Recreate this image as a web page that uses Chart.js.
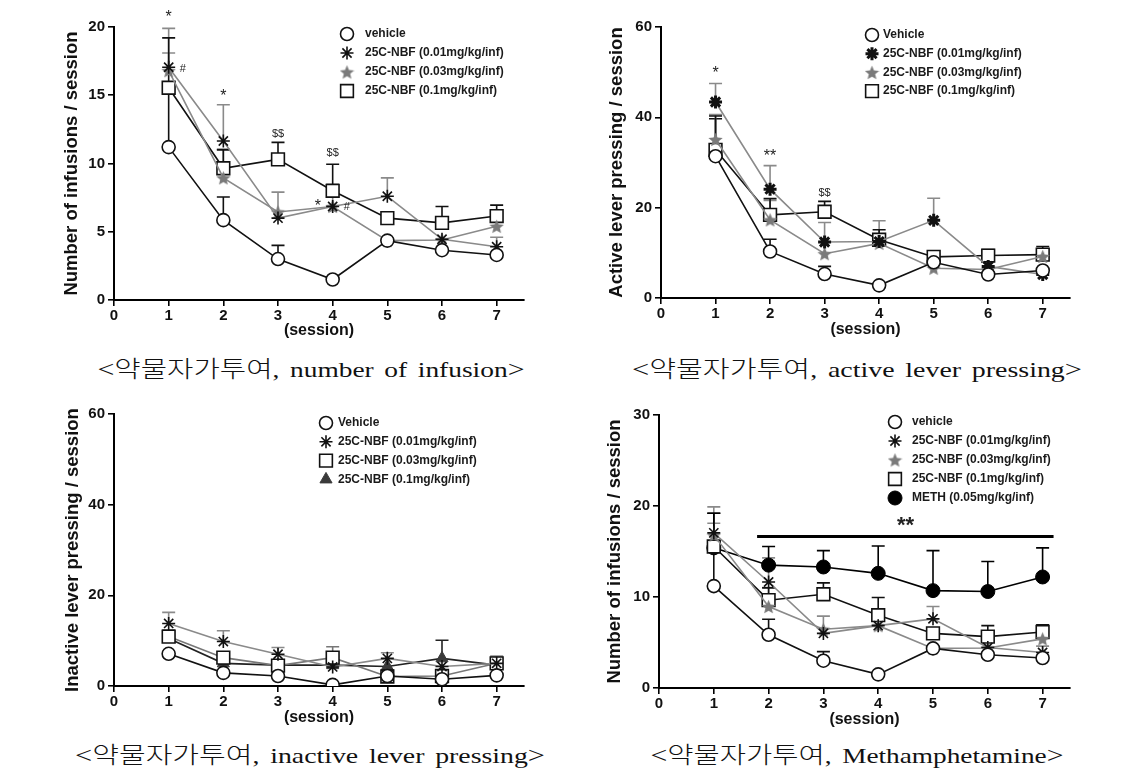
<!DOCTYPE html>
<html><head><meta charset="utf-8">
<script src="https://cdn.jsdelivr.net/npm/chart.js@4/dist/chart.umd.min.js"></script>
<style>
body{margin:0;background:#fff;width:1130px;height:775px;position:relative;overflow:hidden}
canvas{position:absolute}
.cap{position:absolute;font-family:"Liberation Serif","Noto Sans CJK KR",serif;font-size:24px;line-height:30px;color:#111;white-space:nowrap;transform-origin:50% 50%}
.cap .ko{font-family:"Noto Sans CJK KR",sans-serif;font-weight:300;font-size:23px}
.cap .la{font-size:22px;word-spacing:3px}
</style></head><body>
<canvas id="c1" width="565" height="345" style="left:0;top:0"></canvas>
<canvas id="c2" width="565" height="345" style="left:565px;top:0"></canvas>
<canvas id="c3" width="565" height="345" style="left:0;top:388px"></canvas>
<canvas id="c4" width="565" height="345" style="left:565px;top:388px"></canvas>
<div class="cap" data-w="427" style="left:311px;top:352px">&lt;<span class="ko">약물자가투여</span><span class="la">, number of infusion</span>&gt;</div>
<div class="cap" data-w="450" style="left:857px;top:352px">&lt;<span class="ko">약물자가투여</span><span class="la">, active lever pressing</span>&gt;</div>
<div class="cap" data-w="470" style="left:310px;top:738px">&lt;<span class="ko">약물자가투여</span><span class="la">, inactive lever pressing</span>&gt;</div>
<div class="cap" data-w="413" style="left:857px;top:738px">&lt;<span class="ko">약물자가투여</span><span class="la">, Methamphetamine</span>&gt;</div>
<script>
// ---------- DATA ----------
const sessions = [1, 2, 3, 4, 5, 6, 7];
const xTickVals = [0, 1, 2, 3, 4, 5, 6, 7];

// Panel 1 / 4 : number of infusions
const infVehicle    = [11.2, 5.85, 3.0, 1.5, 4.35, 3.65, 3.3];
const infVehicleErr = [4.2, 1.7, 1.0, 0, 0, 0, 0];
const inf001        = [17.05, 11.65, 6.0, 6.85, 7.6, 4.45, 3.9];
const inf001Err     = [2.85, 2.65, 0, 0, 1.35, 0, 0.7];
const inf003        = [16.8, 8.95, 6.45, 6.85, 4.35, 4.4, 5.4];
const inf003Err     = [1.3, 2.1, 1.45, 1.65, 0, 0, 0];
const inf01         = [15.55, 9.65, 10.3, 8.0, 6.0, 5.65, 6.15];
const inf01Err      = [3.65, 1.35, 1.25, 1.95, 0, 1.2, 0.8];
const infMeth       = [15.4, 13.5, 13.3, 12.6, 10.7, 10.6, 12.2];
const infMethErr    = [3.8, 2.05, 1.8, 3.0, 4.4, 3.3, 3.2];
const infTicks  = [0, 5, 10, 15, 20];
const methTicks = [0, 10, 20, 30];

// Panel 2 : active lever pressing
const actVehicle    = [31.4, 10.3, 5.3, 2.8, 7.9, 5.2, 6.1];
const actVehicleErr = [8.3, 2.7, 1.7, 0, 0, 0, 0];
const act001        = [43.4, 24.1, 12.4, 12.5, 17.2, 7.0, 5.2];
const act001Err     = [4.1, 5.2, 4.3, 4.6, 4.9, 0, 0];
const act003        = [35.1, 17.3, 9.8, 12.1, 6.6, 6.3, 9.2];
const act003Err     = [5.5, 4.3, 0, 0, 0, 0, 1.5];
const act01         = [32.8, 18.4, 19.1, 12.9, 9.1, 9.4, 9.6];
const act01Err      = [7.5, 3.6, 2.3, 2.2, 0.6, 1.3, 1.8];
const leverTicks = [0, 20, 40, 60];

// Panel 3 : inactive lever pressing
const inaVehicle    = [7.1, 2.9, 2.2, 0.25, 2.2, 1.5, 2.35];
const inaVehicleErr = [0, 0, 0, 0, 0, 0, 0];
const ina001        = [13.8, 9.8, 7.0, 4.2, 6.1, 4.3, 5.0];
const ina001Err     = [2.45, 2.4, 1.5, 0, 1.25, 0, 1.6];
const ina003        = [10.9, 6.25, 4.5, 6.25, 2.1, 2.2, 5.0];
const ina003Err     = [1.5, 1.2, 0.8, 2.4, 0, 0, 1.0];
const ina01         = [10.5, 5.0, 4.6, 4.6, 4.3, 6.1, 4.6];
const ina01Err      = [0, 0, 0, 0, 0, 4.0, 0];

// significance marks: [x, y, text]
const marks1 = [[1, 20.7, '*'], [1.26, 16.9, '#'], [2, 14.9, '*'], [3, 12.2, '$$'], [4, 10.8, '$$'], [3.73, 6.85, '*'], [4.26, 6.85, '#']];
const marks2 = [[1, 49.6, '*'], [2, 31.2, '**'], [3, 23.2, '$$']];
const marks4 = [[4.5, 17.8, '**']];
const sigLine4 = [1.79, 7.2, 16.65];

// ---------- caption fitting (stretch to the reference width) ----------
document.querySelectorAll('.cap').forEach(d => {
  const w = d.getBoundingClientRect().width;
  const k = (+d.dataset.w) / w;
  d.style.transform = 'translateX(-50%) scaleX(' + k.toFixed(3) + ')';
});

// ---------- STYLES ----------
function makeStar(size, color) {
  const c = document.createElement('canvas'); c.width = c.height = size;
  const g = c.getContext('2d'); g.fillStyle = color; g.beginPath();
  const cx = size / 2, cy = size / 2 + 0.8, R = size / 2, r = R * 0.45;
  for (let i = 0; i < 10; i++) {
    const a = -Math.PI / 2 + i * Math.PI / 5, rad = i % 2 ? r : R;
    g.lineTo(cx + rad * Math.cos(a), cy + rad * Math.sin(a));
  }
  g.closePath(); g.fill(); return c;
}
const starImg = makeStar(15, '#7a7a7a');

const STY = {
  circle: {pointStyle: 'circle', pointRadius: 6.5, pointBackgroundColor: '#fff', pointBorderColor: '#111', pointBorderWidth: 1.6, borderColor: '#111', errColor: '#111'},
  ast:    {pointStyle: 'star', pointRadius: 6.5, pointBackgroundColor: '#111', pointBorderColor: '#111', pointBorderWidth: 1.6, borderColor: '#8a8a8a', errColor: '#8a8a8a'},
  astB:   {pointStyle: 'star', pointRadius: 6.5, pointBackgroundColor: '#111', pointBorderColor: '#111', pointBorderWidth: 3, borderColor: '#8a8a8a', errColor: '#8a8a8a'},
  star:   {pointStyle: starImg, pointRadius: 7, pointBackgroundColor: '#7a7a7a', pointBorderColor: '#7a7a7a', pointBorderWidth: 0, borderColor: '#8a8a8a', errColor: '#8a8a8a'},
  square: {pointStyle: 'rect', pointRadius: 9, pointBackgroundColor: '#fff', pointBorderColor: '#111', pointBorderWidth: 1.6, borderColor: '#111', errColor: '#111'},
  squareG:{pointStyle: 'rect', pointRadius: 9, pointBackgroundColor: '#fff', pointBorderColor: '#111', pointBorderWidth: 1.6, borderColor: '#777', errColor: '#777'},
  tri:    {pointStyle: 'triangle', pointRadius: 7, pointBackgroundColor: '#3a3a3a', pointBorderColor: '#3a3a3a', pointBorderWidth: 1, borderColor: '#222', errColor: '#222'},
  fill:   {pointStyle: 'circle', pointRadius: 7, pointBackgroundColor: '#000', pointBorderColor: '#000', pointBorderWidth: 1, borderColor: '#000', errColor: '#000'}
};
function series(label, vals, err, sty) {
  return Object.assign({
    label, err,
    data: sessions.map((s, k) => ({x: s, y: vals[k]})),
    borderWidth: 1.6, tension: 0, fill: false
  }, STY[sty]);
}

// ---------- PLUGINS ----------
const errorBars = {
  id: 'errorBars',
  beforeDatasetsDraw(chart) {
    const {ctx} = chart, ys = chart.scales.y;
    chart.data.datasets.forEach((ds, i) => {
      if (!ds.err) return;
      const meta = chart.getDatasetMeta(i);
      ctx.save(); ctx.strokeStyle = ds.errColor; ctx.lineWidth = 1.6;
      ds.data.forEach((p, j) => {
        const e = ds.err[j]; if (!e) return;
        const pt = meta.data[j], yt = ys.getPixelForValue(p.y + e);
        ctx.beginPath(); ctx.moveTo(pt.x, pt.y); ctx.lineTo(pt.x, yt);
        ctx.moveTo(pt.x - 6.5, yt); ctx.lineTo(pt.x + 6.5, yt); ctx.stroke();
      });
      ctx.restore();
    });
  }
};
const extras = {
  id: 'extras',
  afterDraw(chart, args, o) {
    const {ctx} = chart, xs = chart.scales.x, ys = chart.scales.y;
    ctx.save();
    (o.marks || []).forEach(m => {
      ctx.fillStyle = '#222'; ctx.textAlign = 'center'; ctx.textBaseline = 'middle';
      const t = m[2];
      ctx.font = (t === '$$' || t === '#') ? '11px "Liberation Sans"' : (o.bigMarks ? 'bold 22px "Liberation Sans"' : '16px "Liberation Sans"');
      ctx.fillText(t, xs.getPixelForValue(m[0]), ys.getPixelForValue(m[1]));
    });
    if (o.sigLine) {
      ctx.strokeStyle = '#000'; ctx.lineWidth = 3;
      const y = ys.getPixelForValue(o.sigLine[2]);
      ctx.beginPath(); ctx.moveTo(xs.getPixelForValue(o.sigLine[0]), y); ctx.lineTo(xs.getPixelForValue(o.sigLine[1]), y); ctx.stroke();
    }
    const L = o.legend;
    chart.data.datasets.forEach((ds, i) => {
      const y = L.y0 + i * L.dy;
      ctx.fillStyle = ds.pointBackgroundColor; ctx.strokeStyle = ds.pointBorderColor; ctx.lineWidth = ds.pointBorderWidth;
      Chart.helpers.drawPoint(ctx, {pointStyle: ds.pointStyle, radius: ds.pointRadius, rotation: 0, borderWidth: ds.pointBorderWidth}, L.x, y);
      ctx.fillStyle = '#1a1a1a'; ctx.font = 'bold 12px "Liberation Sans"'; ctx.textAlign = 'left'; ctx.textBaseline = 'middle';
      ctx.fillText(ds.label, L.tx, y);
    });
    ctx.restore();
  }
};

function makeChart(id, datasets, yMax, yTicks, yTitle, pad, yW, xH, extra) {
  return new Chart(document.getElementById(id), {
    type: 'line',
    data: {datasets},
    plugins: [errorBars, extras],
    options: {
      responsive: false, animation: false, devicePixelRatio: 1,
      layout: {padding: pad},
      plugins: {legend: {display: false}, tooltip: {enabled: false}, extras: extra},
      scales: {
        x: {
          type: 'linear', min: 0, max: 7.5,
          afterBuildTicks: s => { s.ticks = xTickVals.map(v => ({value: v})); },
          afterFit: s => { s.height = xH; },
          grid: {drawOnChartArea: false, drawTicks: true, tickLength: 6, color: '#000', lineWidth: 1.6},
          border: {color: '#000', width: 2},
          ticks: {padding: 1, color: '#111', font: {family: 'Liberation Sans', size: 15, weight: 'bold'}, maxRotation: 0},
          title: {display: true, text: '(session)', color: '#111', padding: 0, font: {family: 'Liberation Sans', size: 16, weight: 'bold'}}
        },
        y: {
          min: 0, max: yMax,
          afterBuildTicks: s => { s.ticks = yTicks.map(v => ({value: v})); },
          afterFit: s => { s.width = yW; },
          grid: {drawOnChartArea: false, drawTicks: true, tickLength: 6, color: '#000', lineWidth: 1.6},
          border: {color: '#000', width: 2},
          ticks: {padding: 3, color: '#111', font: {family: 'Liberation Sans', size: 15, weight: 'bold'}},
          title: {display: true, text: yTitle, color: '#111', padding: {top: 3, bottom: 0}, font: {family: 'Liberation Sans', size: 18.5, weight: 'bold'}}
        }
      }
    }
  });
}

makeChart('c1', [
  series('vehicle', infVehicle, infVehicleErr, 'circle'),
  series('25C-NBF (0.01mg/kg/inf)', inf001, inf001Err, 'ast'),
  series('25C-NBF (0.03mg/kg/inf)', inf003, inf003Err, 'star'),
  series('25C-NBF (0.1mg/kg/inf)', inf01, inf01Err, 'square')
], 20, infTicks, 'Number of infusions / session', {left: 58, top: 27, right: 41, bottom: 5}, 56, 40,
  {marks: marks1, legend: {x: 347, tx: 365, y0: 34, dy: 19}});

makeChart('c2', [
  series('Vehicle', actVehicle, actVehicleErr, 'circle'),
  series('25C-NBF (0.01mg/kg/inf)', act001, act001Err, 'astB'),
  series('25C-NBF (0.03mg/kg/inf)', act003, act003Err, 'star'),
  series('25C-NBF (0.1mg/kg/inf)', act01, act01Err, 'square')
], 60, leverTicks, 'Active lever pressing / session', {left: 38, top: 27, right: 60, bottom: 6}, 58, 41,
  {marks: marks2, legend: {x: 307, tx: 318, y0: 35, dy: 18.7}});

makeChart('c3', [
  series('Vehicle', inaVehicle, inaVehicleErr, 'circle'),
  series('25C-NBF (0.01mg/kg/inf)', ina001, ina001Err, 'ast'),
  series('25C-NBF (0.03mg/kg/inf)', ina003, ina003Err, 'squareG'),
  series('25C-NBF (0.1mg/kg/inf)', ina01, ina01Err, 'tri')
], 60, leverTicks, 'Inactive lever pressing / session', {left: 59, top: 26, right: 41, bottom: 6}, 55, 41,
  {marks: [], legend: {x: 326, tx: 338, y0: 35, dy: 18.8}});

makeChart('c4', [
  series('vehicle', infVehicle, infVehicleErr, 'circle'),
  series('25C-NBF (0.01mg/kg/inf)', inf001, inf001Err, 'ast'),
  series('25C-NBF (0.03mg/kg/inf)', inf003, inf003Err, 'star'),
  series('25C-NBF (0.1mg/kg/inf)', inf01, inf01Err, 'square'),
  series('METH (0.05mg/kg/inf)', infMeth, infMethErr, 'fill')
], 30, methTicks, 'Number of infusions / session', {left: 36, top: 27, right: 60, bottom: 4}, 58, 41,
  {marks: marks4, bigMarks: true, sigLine: sigLine4, legend: {x: 330, tx: 347, y0: 34, dy: 19}});
</script>
</body></html>
